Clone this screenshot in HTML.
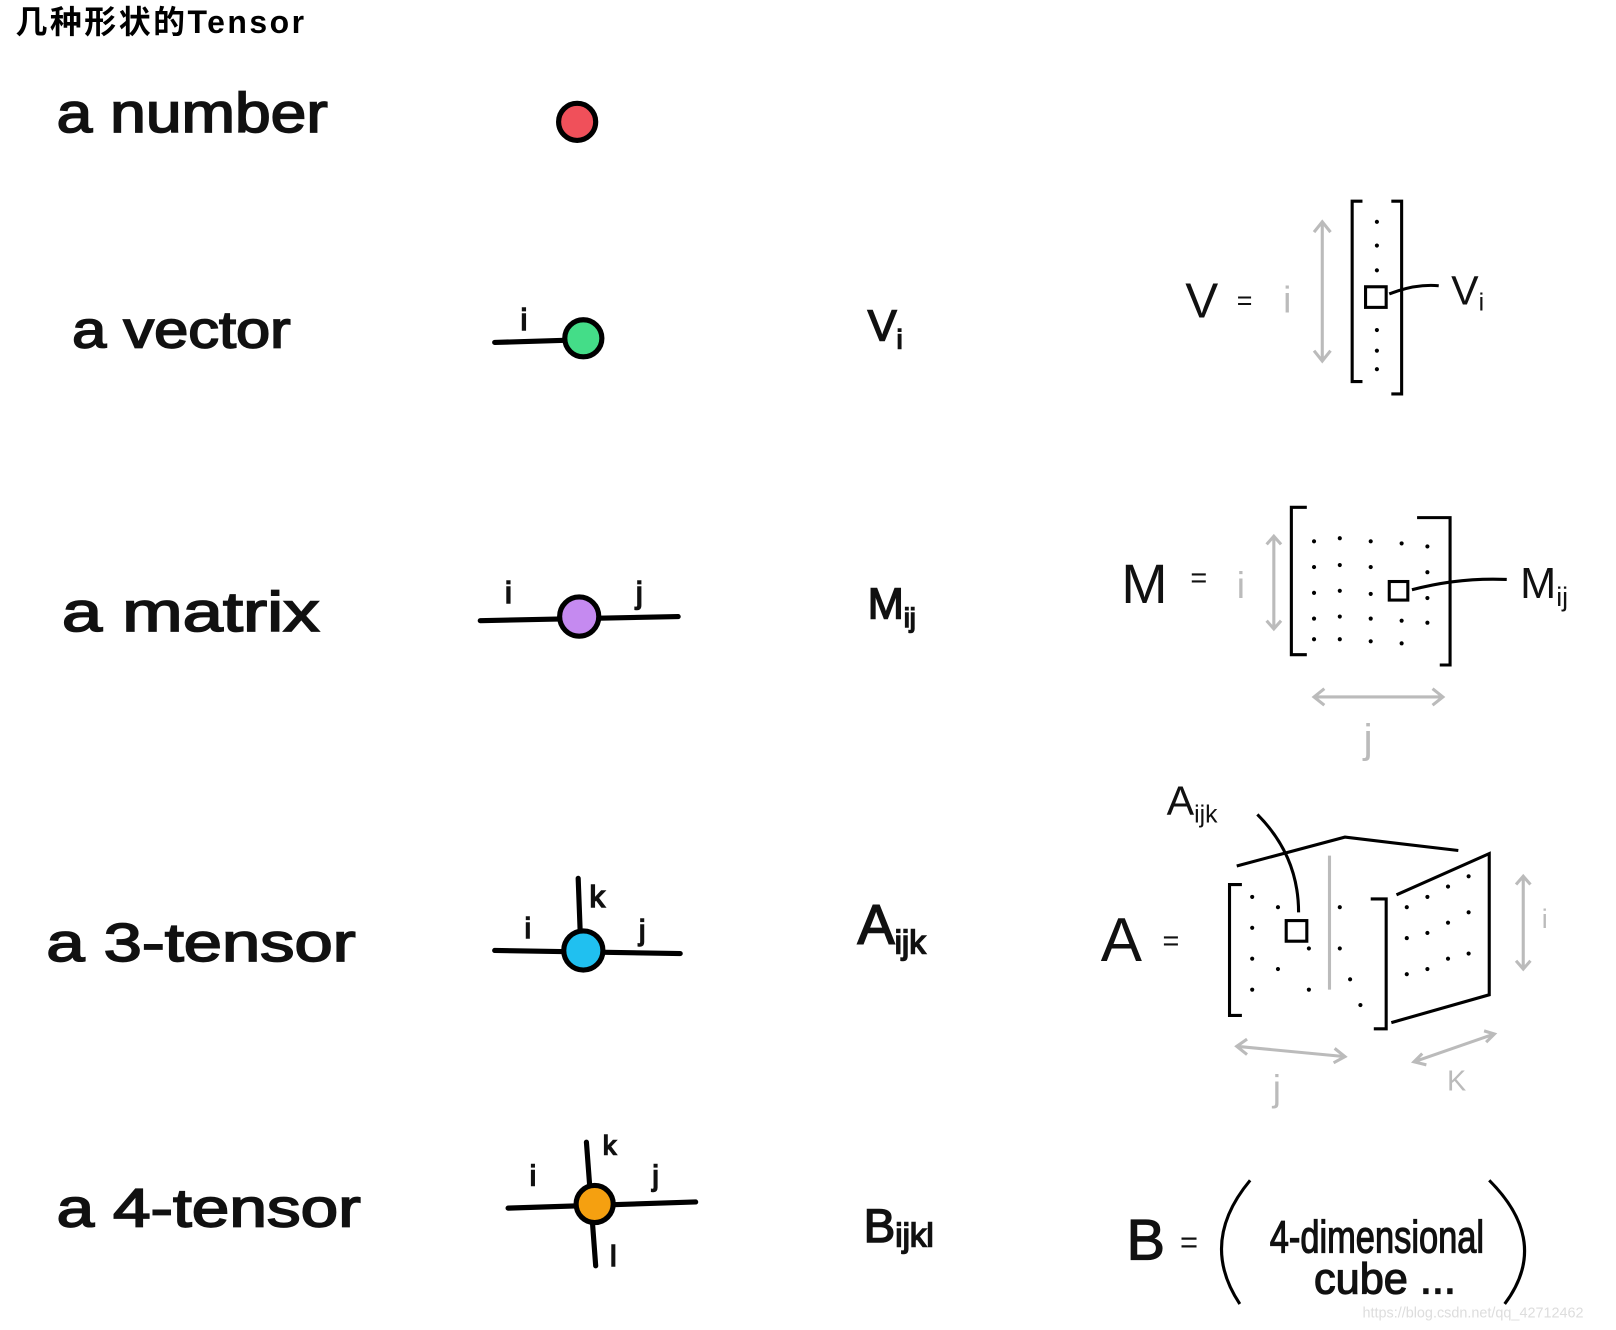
<!DOCTYPE html>
<html><head><meta charset="utf-8"><style>
html,body{margin:0;padding:0;background:#fff;}
svg{display:block}
text{font-family:"Liberation Sans","Noto Sans CJK SC",sans-serif;}
.h{font-family:"Liberation Sans",sans-serif;fill:#111;}
.lb{stroke:#111;stroke-width:1.6;}
.g{fill:#bbb}
</style></head><body>
<svg width="1616" height="1330" viewBox="0 0 1568 1290" xmlns="http://www.w3.org/2000/svg">
<text x="15" y="32" font-size="31" font-weight="bold" fill="#000" textLength="280">几种形状的Tensor</text>

<g>
<text class="h lb" x="55" y="128" font-size="54" textLength="263" lengthAdjust="spacingAndGlyphs">a  number</text>
<text class="h lb" x="70" y="337" font-size="50" textLength="212" lengthAdjust="spacingAndGlyphs">a  vector</text>
<text class="h lb" x="60" y="612" font-size="54" textLength="250" lengthAdjust="spacingAndGlyphs">a  matrix</text>
<text class="h lb" x="45" y="932" font-size="52" textLength="300" lengthAdjust="spacingAndGlyphs">a  3-tensor</text>
<text class="h lb" x="55" y="1190" font-size="52" textLength="295" lengthAdjust="spacingAndGlyphs">a  4-tensor</text>
</g>

<g stroke="#000" stroke-width="5" stroke-linecap="round">
<circle cx="560" cy="118" r="18" fill="#f0505a"/>
<line x1="480" y1="332" x2="548" y2="330"/>
<circle cx="566" cy="328" r="18" fill="#44dd88"/>
<text class="h" x="505" y="320" font-size="30" stroke="#111" stroke-width="1.5">i</text>
<line x1="466" y1="602" x2="658" y2="598"/>
<circle cx="562" cy="598" r="19" fill="#c58af0"/>
<text class="h" x="490" y="585" font-size="30" stroke="#111" stroke-width="1.5">i</text>
<text class="h" x="617" y="585" font-size="30" stroke="#111" stroke-width="1.5">j</text>
<line x1="480" y1="922" x2="660" y2="925"/>
<line x1="561" y1="852" x2="563" y2="905"/>
<circle cx="566" cy="922" r="19" fill="#20c0f0"/>
<text class="h" x="509" y="910" font-size="28" stroke="#111" stroke-width="1.5">i</text>
<text class="h" x="620" y="912" font-size="28" stroke="#111" stroke-width="1.5">j</text>
<text class="h" x="572" y="880" font-size="30" stroke="#111" stroke-width="1.5">k</text>
<line x1="493" y1="1172" x2="675" y2="1166"/>
<line x1="569" y1="1108" x2="578" y2="1228"/>
<circle cx="577" cy="1168" r="18" fill="#f5a010"/>
<text class="h" x="514" y="1150" font-size="28" stroke="#111" stroke-width="1.5">i</text>
<text class="h" x="633" y="1150" font-size="28" stroke="#111" stroke-width="1.5">j</text>
<text class="h" x="585" y="1120" font-size="26" stroke="#111" stroke-width="1.5">k</text>
<text class="h" x="592" y="1228" font-size="28" stroke="#111" stroke-width="1.5">l</text>
</g>

<g stroke="#111" stroke-width="1.5">
<text class="h" x="842" y="330" font-size="42">V<tspan font-size="26" dy="8">i</tspan></text>
<text class="h" x="842" y="600" font-size="42">M<tspan font-size="26" dy="8">ij</tspan></text>
<text class="h" x="832" y="915" font-size="54">A<tspan font-size="32" dy="10">ijk</tspan></text>
<text class="h" x="838" y="1205" font-size="46">B<tspan font-size="32" dy="4">ijkl</tspan></text>
</g>

<g fill="none" stroke="#000" stroke-width="3">
<text class="h" x="1150" y="308" font-size="48" stroke="none">V</text>
<text class="h" x="1200" y="300" font-size="26" stroke="none">=</text>
<text class="g" x="1245" y="303" font-size="36" stroke="none">i</text>
<path d="M1283 215 V350 M1275 225 l8 -10 l8 10 M1275 340 l8 10 l8 -10" stroke="#bbb"/>
<path d="M1322 195 h-10 V370 h10 M1350 195 h10 V382 h-10"/>
<rect x="1325" y="278" width="20" height="20"/>
<path d="M1348 285 q25 -10 48 -8"/>
<text class="h" x="1408" y="295" font-size="40" stroke="none">V<tspan font-size="24" dy="6">i</tspan></text>
<g fill="#000" stroke="none">
<circle cx="1336" cy="215" r="2"/><circle cx="1336" cy="238" r="2"/><circle cx="1336" cy="262" r="2"/><circle cx="1336" cy="320" r="2"/><circle cx="1336" cy="340" r="2"/><circle cx="1336" cy="358" r="2"/>
</g>
</g>

<g fill="none" stroke="#000" stroke-width="3">
<text class="h" x="1088" y="585" font-size="54" stroke="none">M</text>
<text class="h" x="1155" y="570" font-size="28" stroke="none">=</text>
<text class="g" x="1200" y="580" font-size="36" stroke="none">i</text>
<path d="M1236 520 V610 M1229 528 l7 -8 l7 8 M1229 602 l7 8 l7 -8" stroke="#bbb"/>
<path d="M1268 492 h-15 V635 h15 M1375 502 h32 V645 h-10"/>
<path d="M1275 676 H1400 M1285 668 l-10 8 l10 8 M1390 668 l10 8 l-10 8" stroke="#bbb"/>
<text class="g" x="1323" y="730" font-size="40" stroke="none">j</text>
<rect x="1348" y="564" width="18" height="18"/>
<path d="M1370 572 q45 -12 92 -10"/>
<text class="h" x="1475" y="580" font-size="42" stroke="none">M<tspan font-size="26" dy="8">ij</tspan></text>
<g fill="#000" stroke="none">
<circle cx="1275" cy="525" r="2"/><circle cx="1300" cy="522" r="2"/><circle cx="1330" cy="525" r="2"/><circle cx="1360" cy="527" r="2"/><circle cx="1385" cy="530" r="2"/>
<circle cx="1275" cy="550" r="2"/><circle cx="1300" cy="548" r="2"/><circle cx="1330" cy="550" r="2"/><circle cx="1385" cy="555" r="2"/>
<circle cx="1275" cy="575" r="2"/><circle cx="1300" cy="573" r="2"/><circle cx="1330" cy="576" r="2"/><circle cx="1385" cy="580" r="2"/>
<circle cx="1275" cy="600" r="2"/><circle cx="1300" cy="598" r="2"/><circle cx="1330" cy="600" r="2"/><circle cx="1360" cy="602" r="2"/><circle cx="1385" cy="604" r="2"/>
<circle cx="1275" cy="620" r="2"/><circle cx="1300" cy="620" r="2"/><circle cx="1330" cy="622" r="2"/><circle cx="1360" cy="624" r="2"/>
</g>
</g>

<g fill="none" stroke="#000" stroke-width="3">
<text class="h" x="1068" y="932" font-size="60" stroke="none">A</text>
<text class="h" x="1128" y="922" font-size="28" stroke="none">=</text>
<text class="h" x="1132" y="790" font-size="40" stroke="none">A<tspan font-size="24" dy="8">ijk</tspan></text>
<path d="M1220 790 q40 40 40 95"/>
<rect x="1248" y="893" width="20" height="20"/>
<path d="M1205 858 h-12 V985 h12 M1200 840 L1305 812 L1415 825 M1330 872 h15 V998 h-12 M1355 868 L1445 828 V965 L1350 992"/>
<path d="M1290 830 V960 M1478 850 V940 M1471 858 l7 -8 l7 8 M1471 932 l7 8 l7 -8 M1200 1015 L1305 1025 M1210 1008 l-10 7 l10 8 M1295 1017 l10 8 l-11 6 M1372 1030 L1450 1003 M1380 1022 l-8 8 l12 3 M1440 1000 l10 3 l-8 8" stroke="#bbb"/>
<text class="g" x="1235" y="1068" font-size="36" stroke="none">j</text>
<text class="g" x="1404" y="1058" font-size="28" stroke="none">K</text>
<text class="g" x="1496" y="900" font-size="26" stroke="none">i</text>
<g fill="#000" stroke="none">
<circle cx="1215" cy="870" r="2"/><circle cx="1215" cy="900" r="2"/><circle cx="1215" cy="930" r="2"/><circle cx="1215" cy="960" r="2"/>
<circle cx="1240" cy="880" r="2"/><circle cx="1240" cy="940" r="2"/><circle cx="1270" cy="920" r="2"/><circle cx="1270" cy="960" r="2"/>
<circle cx="1300" cy="880" r="2"/><circle cx="1300" cy="920" r="2"/><circle cx="1310" cy="950" r="2"/><circle cx="1320" cy="975" r="2"/>
<circle cx="1365" cy="880" r="2"/><circle cx="1385" cy="870" r="2"/><circle cx="1405" cy="860" r="2"/><circle cx="1425" cy="850" r="2"/>
<circle cx="1365" cy="910" r="2"/><circle cx="1385" cy="905" r="2"/><circle cx="1405" cy="895" r="2"/><circle cx="1425" cy="885" r="2"/>
<circle cx="1365" cy="945" r="2"/><circle cx="1385" cy="940" r="2"/><circle cx="1405" cy="930" r="2"/><circle cx="1425" cy="925" r="2"/>
</g>
</g>

<g fill="none" stroke="#000" stroke-width="3">
<text class="h" x="1093" y="1222" font-size="56" stroke="#111" stroke-width="1.2">B</text>
<text class="h" x="1145" y="1215" font-size="30" stroke="none">=</text>
<path d="M1213 1145 q-50 60 -10 120 M1445 1145 q60 60 15 120"/>
<text class="h" x="1232" y="1215" font-size="44" stroke="#111" stroke-width="1.2" textLength="208" lengthAdjust="spacingAndGlyphs">4-dimensional</text>
<text class="h" x="1275" y="1255" font-size="42" stroke="#111" stroke-width="1.2">cube ...</text>
</g>
<text x="1322" y="1278" font-size="14" fill="#ddd">https://blog.csdn.net/qq_42712462</text>
</svg>
</body></html>
